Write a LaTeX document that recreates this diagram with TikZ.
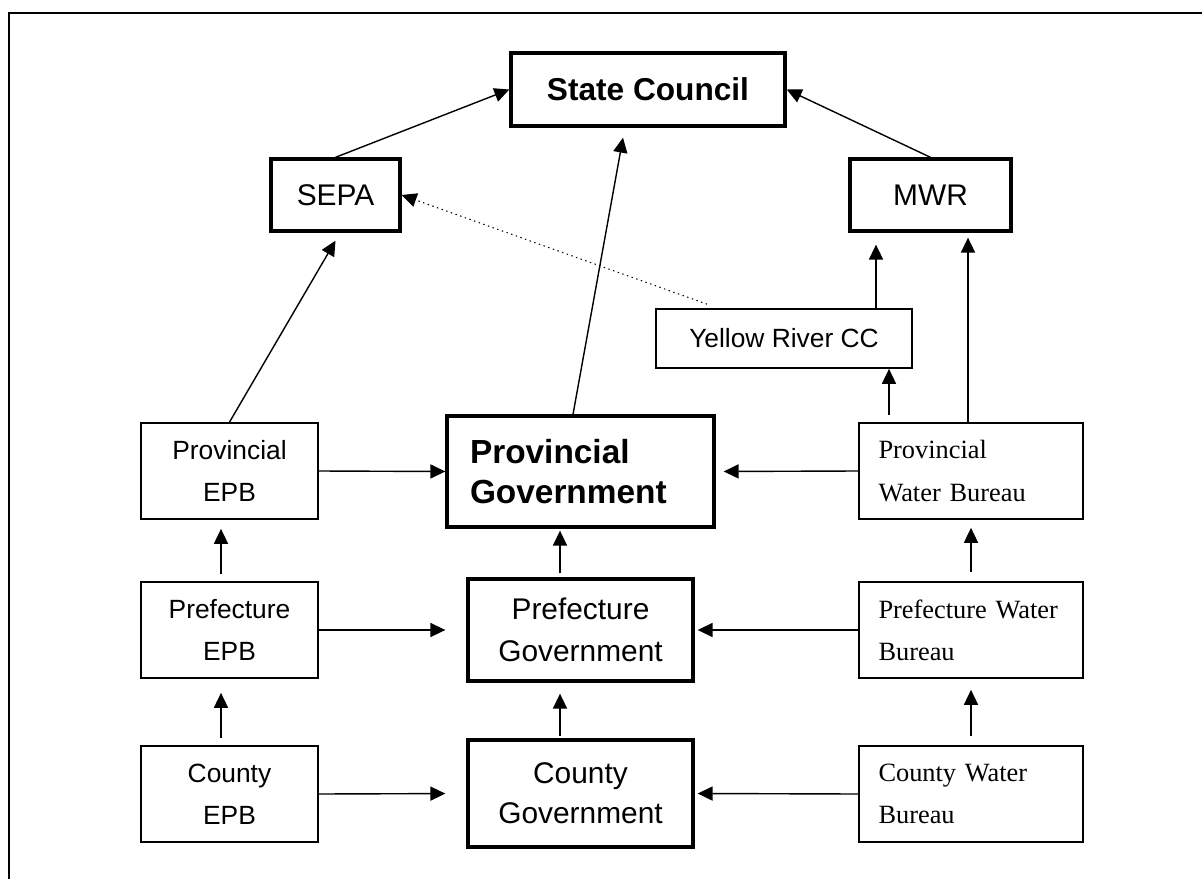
\documentclass[tikz,border=0pt]{standalone}
\usepackage{fontspec}
\setmainfont{Liberation Sans}
\newfontfamily\timesfont{Liberation Serif}
\usetikzlibrary{arrows.meta}
\tikzset{
  arr/.style={-{Triangle[length=8.5pt,width=8pt]},line width=.8pt},
  box/.style={draw,line width=1pt,inner sep=0pt,align=center,minimum width=3.54cm,minimum height=1.92cm,font=\fontsize{15}{24}\selectfont},
  bigbox/.style={draw,line width=1.9pt,inner sep=0pt,align=center},
  waterbox/.style={draw,line width=1pt,inner xsep=.39cm,inner ysep=0pt,text width=3.7cm,minimum height=1.92cm,align=left,font=\timesfont\fontsize{15}{24}\selectfont},
}

\begin{document}
\begin{tikzpicture}
    \useasboundingbox (0,0) rectangle (24.04,-17.58);
    \draw[line width=1.2pt] (24.04,-.26) -- (.18,-.26) -- (.18,-17.58);

    \node[bigbox,minimum width=5.48cm,minimum height=1.46cm,font=\bfseries\fontsize{18}{22}\selectfont] (council) at (12.96,-1.79) {State Council};
    \node[bigbox,minimum width=2.58cm,minimum height=1.44cm,font=\fontsize{17}{20}\selectfont] (sepa) at (6.71,-3.90) {SEPA};
    \node[bigbox,minimum width=3.22cm,minimum height=1.44cm,font=\fontsize{17}{20}\selectfont] (mwr) at (18.61,-3.90) {MWR};
    \node[box,minimum width=5.12cm,minimum height=1.18cm] (yrcc) at (15.68,-6.77) {Yellow River CC};

    \node[box] (provepb) at (4.59,-9.42) {Provincial\\EPB};
    \node[box] (prefepb) at (4.59,-12.60) {Prefecture\\EPB};
    \node[box] (cntyepb) at (4.59,-15.88) {County\\EPB};

    \node[bigbox,align=left,text width=4.42cm,inner xsep=.46cm,minimum height=2.22cm,font=\bfseries\fontsize{19}{23}\selectfont] (provgov) at (11.61,-9.43) {Provincial\\Government};
    \node[bigbox,minimum width=4.5cm,minimum height=2.04cm,font=\fontsize{17}{24}\selectfont] (prefgov) at (11.61,-12.60) {Prefecture\\Government};
    \node[bigbox,minimum width=4.5cm,minimum height=2.14cm,font=\fontsize{17}{23}\selectfont] (cntygov) at (11.61,-15.87) {County\\Government};

    \node[waterbox] (provwb) at (19.42,-9.42) {Provincial\\Water Bureau};
    \node[waterbox] (prefwb) at (19.42,-12.60) {Prefecture Water\\Bureau};
    \node[waterbox] (cntywb) at (19.42,-15.88) {County Water\\Bureau};

    \draw[arr] (sepa.north) -- (council.west);
    \draw[arr] (mwr.north) -- (council.east);
    \draw[arr] ([xshift=-.15cm]provgov.north) -- ([xshift=-.5cm,yshift=-.2cm]council.south);
    \draw[arr] (provepb.north) -- ([yshift=-.16cm]sepa.south);
    \draw[arr,dotted,line width=.6pt] ([xshift=-1.54cm,yshift=.08cm]yrcc.north) -- (sepa.east);

    \coordinate (yrup) at ([xshift=1.84cm]yrcc.north);
    \draw[arr,shorten >=.24cm] (yrup) -- (yrup |- mwr.south);
    \coordinate (wbup) at ([xshift=-.06cm]provwb.north);
    \draw[arr,shorten >=.1cm] (wbup) -- (wbup |- mwr.south);
    \coordinate (wbcc) at ([xshift=-1.64cm]provwb.north);
    \draw[arr,shorten <=.14cm] (wbcc) -- (wbcc |- yrcc.south);

    \draw[arr] (provepb.east) -- (provgov.west);
    \draw[arr,shorten >=.42cm] (prefepb.east) -- (prefgov.west);
    \draw[arr,shorten >=.42cm] (cntyepb.east) -- (cntygov.west);
    \draw[arr,shorten >=.16cm] (provwb.west) -- (provgov.east);
    \draw[arr,shorten >=.06cm] (prefwb.west) -- (prefgov.east);
    \draw[arr,shorten >=.06cm] (cntywb.west) -- (cntygov.east);

    \draw[arr,shorten <=.14cm,shorten >=.18cm] ([xshift=-.17cm]prefepb.north) -- ([xshift=-.17cm]provepb.south);
    \draw[arr,shorten <=.14cm,shorten >=.28cm] ([xshift=-.17cm]cntyepb.north) -- ([xshift=-.17cm]prefepb.south);
    \draw[arr,shorten <=.08cm,shorten >=.04cm] ([xshift=-.41cm]prefgov.north) -- ([xshift=-.41cm]provgov.south);
    \draw[arr,shorten <=.04cm,shorten >=.22cm] ([xshift=-.41cm]cntygov.north) -- ([xshift=-.41cm]prefgov.south);
    \draw[arr,shorten <=.18cm,shorten >=.16cm] (prefwb.north) -- (provwb.south);
    \draw[arr,shorten <=.18cm,shorten >=.22cm] (cntywb.north) -- (prefwb.south);
    \end{tikzpicture}
\end{document}
